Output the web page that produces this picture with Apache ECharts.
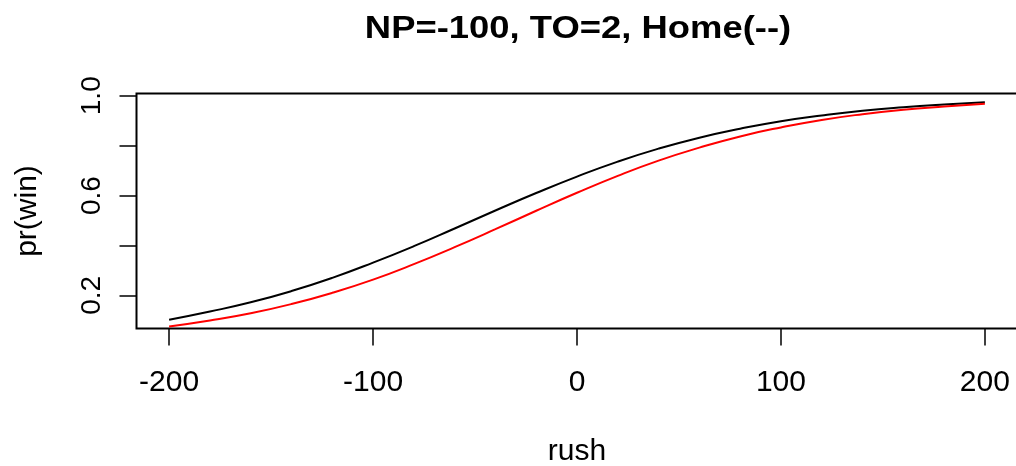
<!DOCTYPE html>
<html>
<head>
<meta charset="utf-8">
<script src="https://cdn.jsdelivr.net/npm/echarts@6/dist/echarts.min.js"></script>
<style>
html,body{margin:0;padding:0;background:#fff;}
#chart{width:1016px;height:466px;}
</style>
</head>
<body>
<div id="chart"></div>
<script>
// Data
const rush = [-200,-180,-160,-140,-120,-100,-80,-60,-40,-20,0,20,40,60,80,100,120,140,160,180,200];
const prWinBlack = [0.102,0.135,0.172,0.217,0.270,0.331,0.397,0.468,0.540,0.610,0.676,0.736,0.788,0.832,0.868,0.898,0.921,0.940,0.954,0.965,0.974];
const prWinRed = [0.075,0.099,0.128,0.165,0.210,0.263,0.325,0.393,0.465,0.539,0.611,0.679,0.740,0.792,0.837,0.873,0.903,0.926,0.944,0.957,0.968];
const xTicks = [-200,-100,0,100,200];
const yTicks = [0.2,0.4,0.6,0.8,1.0];
const yLabels = [0.2,0.6,1.0];
const titleText = 'NP=-100, TO=2, Home(--)';
const xName = 'rush';
const yName = 'pr(win)';

const pairs = (xs, ys) => xs.map((x, i) => [x, ys[i]]);

const chart = echarts.init(document.getElementById('chart'), null, {renderer: 'canvas'});
const font = '"Liberation Sans", Arial, sans-serif';
chart.setOption({
  animation: false,
  backgroundColor: '#ffffff',
  graphic: [{
    type: 'text',
    x: 578, y: 29,
    scaleX: 1.138,
    style: {
      text: titleText,
      fontFamily: font,
      fontWeight: 'bold',
      fontSize: 32,
      fill: '#000',
      align: 'center',
      verticalAlign: 'middle'
    }
  }],
  grid: {
    left: 136.5, top: 93.5, width: 881, height: 235,
    containLabel: false, outerBoundsMode: 'none',
    show: true, borderColor: '#000', borderWidth: 2, backgroundColor: 'transparent'
  },
  xAxis: {
    type: 'value', min: -216, max: 216,
    name: xName, nameLocation: 'middle', nameGap: 108,
    nameTextStyle: {fontFamily: font, fontSize: 30, color: '#000'},
    axisLine: {show: false, onZero: false},
    splitLine: {show: false},
    axisTick: {show: true, inside: false, length: 17, customValues: xTicks, lineStyle: {color: '#000', width: 1.5}},
    axisLabel: {customValues: xTicks, margin: 39, fontFamily: font, fontSize: 30, color: '#000'}
  },
  yAxis: {
    type: 'value', min: 0.067, max: 1.009,
    name: yName, nameLocation: 'middle', nameGap: 94, nameRotate: 90,
    nameTextStyle: {fontFamily: font, fontSize: 30, color: '#000'},
    axisLine: {show: false, onZero: false},
    splitLine: {show: false},
    axisTick: {show: true, inside: false, length: 17, customValues: yTicks, lineStyle: {color: '#000', width: 1.5}},
    axisLabel: {customValues: yLabels, rotate: 90, margin: 30, fontFamily: font, fontSize: 28, color: '#000',
      formatter: v => v.toFixed(1)}
  },
  series: [
    {type: 'line', data: pairs(rush, prWinBlack), showSymbol: false, smooth: true,
     lineStyle: {color: '#000000', width: 2}, itemStyle: {color: '#000000'}, z: 2},
    {type: 'line', data: pairs(rush, prWinRed), showSymbol: false, smooth: true,
     lineStyle: {color: '#ff0000', width: 2}, itemStyle: {color: '#ff0000'}, z: 3}
  ]
});
</script>
</body>
</html>
